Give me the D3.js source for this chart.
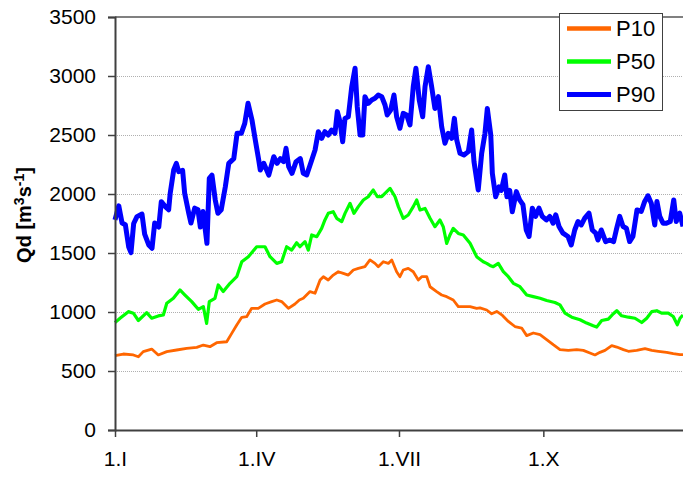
<!DOCTYPE html>
<html>
<meta charset="utf-8">
<script src="https://d3js.org/d3.v7.min.js"></script>
<style>
  body { margin: 0; background: #fff; }
  text { font-family: "Liberation Sans", Arial, sans-serif; }
</style>
<body>
<div id="chart"></div>
<script>
// tick positions (day of year) and labels
const monthDays = [0, 90, 181, 273];
const monthLabels = ["1.I", "1.IV", "1.VII", "1.X"];
const yTicks = [0, 500, 1000, 1500, 2000, 2500, 3000, 3500];

// P10
const p10Days = [0,5.3,11.7,14.9,18,23.4,27.6,33,39.3,45.7,52.1,56.3,60.5,64.8,71.2,74.4,77.6,80.8,83.9,87.1,
  91.3,95.6,99.9,103.1,106.2,110.5,114.7,117.5,120,124.3,127.5,130.7,132.8,135.9,139.1,142.3,145.5,148.7,151.9,
  155.1,159.3,162.5,165.7,167.8,171,174.2,176.4,179.5,181.6,183.7,186.9,190.1,193.3,195.5,198.7,200.8,205,208.2,
  211.4,215.6,218.8,222,226.3,230.5,232.6,236.9,240.1,243.3,246.5,250.7,254.9,259.2,262.4,266.6,270.9,275.1,
  279.3,283.6,288.9,294.3,298.5,302.7,305.9,309.1,312.3,316.6,319.8,324,327.2,332.5,337.8,342.1,346.3,351.6,
  355.8,360.1,362];
const p10Vals = [630,644,636,621,664,686,636,664,678,692,700,720,706,740,748,819,890,955,960,1031,
  1031,1068,1088,1102,1088,1031,1068,1102,1116,1173,1159,1271,1299,1271,1313,1341,1327,1313,1356,
  1370,1384,1441,1412,1384,1426,1412,1441,1341,1299,1356,1370,1341,1271,1299,1299,1214,1173,1144,
  1130,1102,1045,1045,1045,1031,1035,1017,985,1005,976,920,877,864,800,822,808,766,
  723,681,675,681,675,653,636,658,675,715,703,681,667,675,690,675,667,658,
  647,638,638];

// P50
const p50Days = [0,3.2,8.5,11.7,14.9,20.2,23.4,27.6,30.8,33,37.2,41.4,44.6,48.9,53.1,56.3,58.4,60.1,63.7,65.8,
  69,73.3,77.6,80.8,85,90.3,95.6,98.8,103.1,106.2,109.4,112.6,115.8,117.9,121.1,123.2,125.4,128.6,131.7,133.8,
  135.9,139.1,141.3,144.5,146.6,149.8,152.3,155.1,158.3,161.4,164.6,167.2,170,173.2,175.3,178.5,180.6,183.7,
  186.9,190.1,192.3,194.4,197.6,200.8,203.9,207.1,209.2,211.4,213.5,215.6,218.8,222,226.3,230.5,234.7,236.9,
  239,241.1,244.3,247.5,250.7,253.9,258.1,262.4,266.6,270.9,275.1,280.4,283.6,286.8,291.1,296.4,300.6,304.8,
  307,310.2,314.4,317.6,319.8,322.9,327.2,331.4,335.7,338.9,342.1,345.3,348.4,352.6,355.8,358.4,360.1,362];
const p50Vals = [910,947,1003,990,928,995,947,967,975,1074,1116,1187,1144,1088,1023,1046,904,1088,1116,1229,
  1173,1243,1299,1426,1469,1553,1553,1469,1412,1426,1553,1525,1587,1553,1596,1525,1653,1638,1709,1780,
  1836,1850,1794,1766,1836,1921,1836,1893,1949,1977,2034,1977,1977,2020,2048,1977,1893,1794,
  1822,1893,1949,1864,1878,1794,1723,1780,1723,1582,1653,1709,1666,1653,1582,1469,1426,1412,
  1395,1384,1412,1342,1299,1243,1215,1144,1130,1116,1097,1080,1060,990,956,934,906,883,
  872,928,940,985,1011,968,956,947,911,947,1003,1011,990,990,962,892,947,975];

// P90
const p90Days = [0,2.4,4.5,6.6,8.7,10.2,11.9,14,17.2,18.9,21.5,23.6,25.3,27.9,29.5,32.1,34.2,35.2,37.4,39.1,
  40.6,43.1,44.4,47,48.4,50.8,52.9,54.4,56.1,58.6,60.1,61.8,63.9,65.6,67.7,70.3,72.5,75.7,77.8,80.5,82.7,84.8,
  87.3,89.4,91.6,92.6,94.8,98,101.2,103.3,105.4,107.5,109,110.7,112.8,115.4,118.1,120,122.2,125.4,127.5,129.6,
  131.7,133.8,135.9,138.1,140.2,141.7,143.4,145.1,146.6,148.7,150.9,153,154.4,156.2,157.9,159.3,161.4,163.6,
  165.7,167.8,170,172.1,173.5,175.7,177.8,179.5,181.6,183.7,185.9,188,190.1,191.8,193.9,196.1,197.6,199.7,
  201.8,203.9,206.1,208.2,210.3,212.4,214.6,216.3,217.8,219.9,222.4,225.2,227.3,228.8,231.5,233.7,235.8,237.3,
  239.5,240.5,242.6,244.7,246.2,248.4,249.8,251.6,253.2,255.8,257.9,260,262.1,263.9,266,268.1,270.2,272.3,
  274.9,277.1,279.2,280.9,283,285.5,288.7,290.8,293,295.1,297.2,299.4,302.1,304.2,306.4,307.8,309.9,312.7,
  315.3,317.8,319.5,321.7,323.8,325.9,328,330.1,332.7,335.4,337.6,339.7,341.8,344,345.4,347.2,349.3,351.4,
  353.9,356.1,357.7,359.9,362];
const p90Vals = [1780,1900,1754,1740,1553,1503,1750,1808,1830,1660,1568,1540,1754,1720,1935,1893,1866,2008,2203,2260,
  2190,2200,2006,1837,1754,1880,1866,1720,1852,1582,2133,2160,1950,1837,1866,2060,2260,2300,2514,2514,2599,2769,
  2627,2458,2288,2203,2260,2160,2316,2260,2300,2274,2387,2232,2175,2274,2300,2175,2161,2288,2373,2528,
  2472,2528,2500,2542,2514,2698,2613,2443,2641,2655,2910,3066,2740,2500,2500,2825,2768,2797,
  2811,2839,2825,2754,2670,2712,2839,2655,2557,2683,2670,2585,2910,3066,2797,2655,2910,3079,
  2910,2725,2825,2570,2430,2514,2472,2641,2458,2345,2330,2359,2542,2274,2034,2345,2514,2725,
  2500,2175,1977,2060,2030,2161,1977,2030,1850,2020,1950,1910,1695,1640,1880,1810,1880,1810,
  1780,1810,1752,1824,1725,1668,1640,1568,1695,1767,1738,1795,1838,1695,1668,1610,1695,1597,
  1610,1597,1695,1810,1725,1710,1597,1640,1865,1852,1937,1985,1922,1738,1937,1810,1752,1752,
  1767,1950,1767,1838,1725];

const seriesNames = ["P10", "P50", "P90"];
const seriesColors = ["#ff6600", "#00ff00", "#0000ff"];
const seriesWidths = [2.8, 3.2, 5];

const W = 683, H = 477;
const plotLeft = 115, plotTop = 17, plotBottom = 430;
const fontStack = "'Liberation Sans', Arial, sans-serif";

const svg = d3.select("#chart").append("svg")
  .attr("width", W).attr("height", H);

const x = d3.scaleLinear().domain([0, 365]).range([plotLeft, plotLeft + 365 * 1.569]);
const y = d3.scaleLinear().domain([0, 3500]).range([plotBottom, plotTop]);

// gridlines
svg.append("g").selectAll("line")
  .data(yTicks.filter(v => v > 0 && v < 3500))
  .join("line")
  .attr("x1", plotLeft).attr("x2", W)
  .attr("y1", d => y(d) + 0.5).attr("y2", d => y(d) + 0.5)
  .attr("stroke", "#b0b0b0").attr("stroke-width", 1)
  .attr("stroke-dasharray", "1,1");

// top border
svg.append("line")
  .attr("x1", plotLeft).attr("x2", W)
  .attr("y1", y(3500)).attr("y2", y(3500))
  .attr("stroke", "#808080").attr("stroke-width", 2);

// series
const allDays = [p10Days, p50Days, p90Days];
const allVals = [p10Vals, p50Vals, p90Vals];
allDays.forEach((days, i) => {
  const pts = days.map((d, j) => [d, allVals[i][j]]);
  svg.append("path")
    .datum(pts)
    .attr("fill", "none")
    .attr("stroke", seriesColors[i])
    .attr("stroke-width", seriesWidths[i])
    .attr("stroke-linejoin", "round")
    .attr("d", d3.line().x(p => x(p[0])).y(p => y(p[1])));
});

// y axis
const yAxis = svg.append("g")
  .attr("transform", "translate(" + plotLeft + ",0)")
  .call(d3.axisLeft(y).tickValues(yTicks).tickFormat(d3.format("d"))
    .tickSize(7).tickPadding(12));
yAxis.select(".domain").attr("stroke", "#404040").attr("stroke-width", 2);
yAxis.selectAll(".tick line").attr("stroke", "#404040").attr("stroke-width", 1.5);
yAxis.selectAll("text").style("font-size", "21px").attr("fill", "#000")
  .style("font-family", fontStack);

// x axis
const xAxis = svg.append("g")
  .attr("transform", "translate(0," + plotBottom + ")")
  .call(d3.axisBottom(x).tickValues(monthDays).tickFormat((d, i) => monthLabels[i])
    .tickSize(7).tickSizeOuter(0).tickPadding(14));
xAxis.select(".domain").attr("stroke", "#404040").attr("stroke-width", 2);
xAxis.selectAll(".tick line").attr("stroke", "#404040").attr("stroke-width", 1.5);
xAxis.selectAll("text").style("font-size", "21px").attr("fill", "#000")
  .style("font-family", fontStack);

// y title
const title = svg.append("text")
  .attr("transform", "translate(31,215) rotate(-90)")
  .attr("text-anchor", "middle")
  .style("font-size", "20px").style("font-weight", "bold");
title.append("tspan").text("Qd [m");
title.append("tspan").text("3").attr("dy", -7).style("font-size", "14px");
title.append("tspan").text("s").attr("dy", 7);
title.append("tspan").text("-1").attr("dy", -7).style("font-size", "14px");
title.append("tspan").text("]").attr("dy", 7);

// legend
const legend = svg.append("g").attr("transform", "translate(559,13)");
legend.append("rect")
  .attr("x", 0.5).attr("y", 0.5).attr("width", 103).attr("height", 97)
  .attr("fill", "#fff").attr("stroke", "#404040").attr("stroke-width", 1);
seriesNames.forEach((name, i) => {
  const yy = 15.5 + i * 33;
  legend.append("line")
    .attr("x1", 8).attr("x2", 52).attr("y1", yy).attr("y2", yy)
    .attr("stroke", seriesColors[i]).attr("stroke-width", i === 2 ? 5 : 4.5);
  legend.append("text")
    .attr("x", 57).attr("y", yy + 7.5)
    .style("font-size", "22px").text(name);
});
</script>
</body>
</html>
